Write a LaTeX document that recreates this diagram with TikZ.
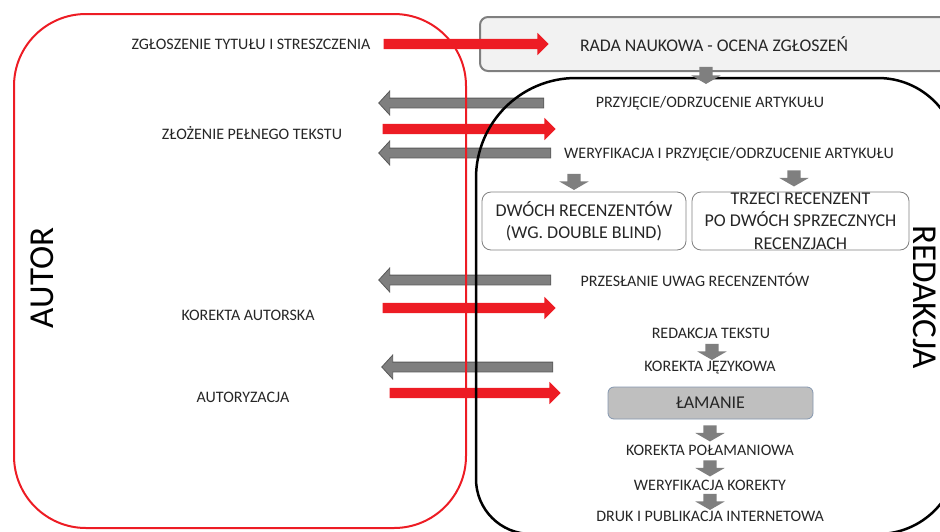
\documentclass[tikz,border=0pt]{standalone}
\usepackage{fontspec}
\setmainfont{Carlito}
\usetikzlibrary{shapes.arrows}
\definecolor{wfRed}{RGB}{237,28,36}
\definecolor{wfGray}{RGB}{127,127,127}
\definecolor{wfDark}{RGB}{89,89,89}
\definecolor{wfText}{RGB}{38,38,38}
\definecolor{wfLight}{RGB}{242,242,242}
\definecolor{wfMid}{RGB}{191,191,191}
\definecolor{wfBlue}{RGB}{132,151,176}

\begin{document}
\begin{tikzpicture}[x=1pt,y=-1pt]
\tikzset{
    wfLabel/.style={text=wfText,font=\fontsize{16}{19}\selectfont,inner sep=0pt},
    wfBox/.style={rectangle,rounded corners=9pt,draw=wfGray,line width=0.8pt,text=wfText,font=\fontsize{18}{22.5}\selectfont,align=center,minimum height=58pt,inner sep=0pt},
    wfSide/.style={font=\fontsize{35}{40}\selectfont,inner sep=0pt},
    wfRight/.style={single arrow,fill=wfRed,inner xsep=0pt,inner ysep=5pt,single arrow head extend=6pt,single arrow tip angle=90},
    wfLeft/.style={single arrow,fill=wfGray,draw=wfDark,line width=0.8pt,inner xsep=0pt,inner ysep=4.5pt,single arrow head extend=7pt,single arrow tip angle=95,rotate=180},
    wfDown/.style={single arrow,fill=wfGray,inner xsep=0pt,inner ysep=6.5pt,single arrow head extend=8pt,single arrow tip angle=120,minimum height=16pt,rotate=-90},
}
\useasboundingbox (0,0) rectangle (940,531);

\node[rectangle,rounded corners=8pt,draw=wfGray,line width=2pt,fill=wfLight,minimum width=468pt,minimum height=54pt,text=wfText,font=\fontsize{17.8}{21}\selectfont] (rada) at (714,44) {RADA NAUKOWA - OCENA ZGŁOSZEŃ};

\node[wfRight,minimum height=165pt] (zgloszenieArr) at (463.5,44) {};
\node[wfLeft,minimum height=165pt] (przyjArr) at (463.5,103) {};
\node[wfRight,minimum height=173pt] (zlozenieArr) at (466.5,129) {};
\node[wfLeft,minimum height=172pt] (weryfArr) at (467,153) {};
\node[wfLeft,minimum height=172pt] (uwagiArr) at (467,280) {};
\node[wfRight,minimum height=173pt] (korAutArr) at (466.5,308) {};
\node[wfLeft,minimum height=171pt] (jezykArr) at (469.5,367) {};
\node[wfRight,minimum height=171pt] (autoryzArr) at (472.5,393) {};

\draw[wfRed,line width=2pt,rounded corners=72pt] (14,14) rectangle (466,528);
\draw[line width=2.5pt] (476,178) .. controls (476,122.8) and (520.8,78) .. (576,78)
    -- (878,78) .. controls (922.2,78) and (958,113.8) .. (958,158)
    -- (958,454) .. controls (958,498.2) and (922.2,534) .. (878,534)
    -- (531,534) .. controls (500.6,534) and (476,509.4) .. (476,479) -- cycle;

\node[wfDown,minimum height=17pt] (radaArr) at (706,73.5) {};

\node[wfLabel] (zgloszenie) at (251,44) {ZGŁOSZENIE TYTUŁU I STRESZCZENIA};
\node[wfLabel] (zlozenie) at (252,133) {ZŁOŻENIE PEŁNEGO TEKSTU};
\node[wfLabel] (korAut) at (248,315) {KOREKTA AUTORSKA};
\node[wfLabel] (autoryz) at (243,397) {AUTORYZACJA};
\node[wfSide,rotate=90] (autor) at (42,278) {AUTOR};

\node[wfLabel] (przyj) at (710,103) {PRZYJĘCIE/ODRZUCENIE ARTYKUŁU};
\node[wfLabel] (weryf) at (729,154) {WERYFIKACJA I PRZYJĘCIE/ODRZUCENIE ARTYKUŁU};
\node[wfDown] (dwochArr) at (574,180) {};
\node[wfDown] (trzeciArr) at (794,176.5) {};
\node[wfBox,minimum width=204pt] (dwoch) at (584,221) {DWÓCH RECENZENTÓW\\(WG. DOUBLE BLIND)};
\node[wfBox,minimum width=217pt] (trzeci) at (800.5,221) {TRZECI RECENZENT\\PO DWÓCH SPRZECZNYCH\\RECENZJACH};
\node[wfLabel] (uwagi) at (695,280) {PRZESŁANIE UWAG RECENZENTÓW};
\node[wfLabel] (redTekst) at (711,333) {REDAKCJA TEKSTU};
\node[wfDown] (redTekstArr) at (712,350) {};
\node[wfLabel] (jezyk) at (710,368) {KOREKTA JĘZYKOWA};
\node[wfBox,fill=wfMid,draw=wfBlue,rounded corners=6pt,minimum width=205pt,minimum height=32pt] (lamanie) at (710.5,403) {ŁAMANIE};
\node[wfDown] (lamanieArr) at (710,431.5) {};
\node[wfLabel] (polam) at (710,450) {KOREKTA POŁAMANIOWA};
\node[wfDown] (polamArr) at (710,466.5) {};
\node[wfLabel] (weryfKor) at (710,485) {WERYFIKACJA KOREKTY};
\node[wfDown] (weryfKorArr) at (710,500) {};
\node[wfLabel] (druk) at (710,516) {DRUK I PUBLIKACJA INTERNETOWA};
\node[wfSide,rotate=-90] (redakcja) at (925,297) {REDAKCJA};
\end{tikzpicture}
\end{document}
